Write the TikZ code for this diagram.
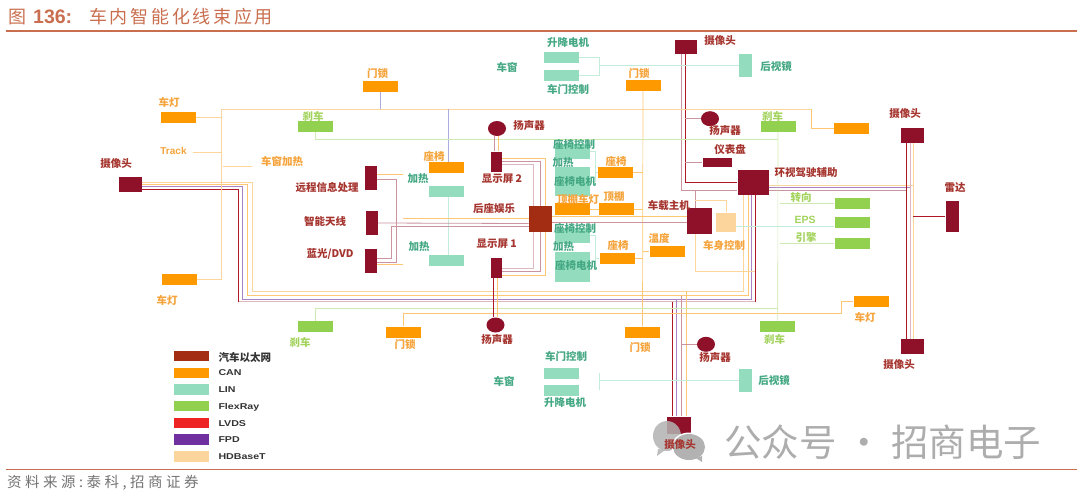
\documentclass[tikz,border=0pt]{standalone}
\usepackage{fontspec}
\setmainfont{Liberation Sans}
\newfontfamily\cjk{Noto Sans CJK SC}
\newfontfamily\cjkwide[LetterSpace=15]{Noto Sans CJK SC}
\newfontfamily\cjksrc[LetterSpace=24]{Noto Sans CJK SC}
\newfontfamily\legendfont[FakeStretch=1.25]{Liberation Sans}
\usetikzlibrary{shapes.geometric,positioning}
\definecolor{ecuc}{HTML}{8E1129}
\definecolor{ethc}{HTML}{A32D12}
\definecolor{canc}{HTML}{FF9900}
\definecolor{linc}{HTML}{93DDBE}
\definecolor{frc}{HTML}{92D050}
\definecolor{lvdsc}{HTML}{EE2424}
\definecolor{fpdc}{HTML}{7030A0}
\definecolor{hdc}{HTML}{FBD59B}
\definecolor{rulec}{HTML}{C96F4F}
\definecolor{ecutxtc}{HTML}{A5342E}
\definecolor{cantxtc}{HTML}{F5A33B}
\definecolor{lintxtc}{HTML}{45A884}
\definecolor{frtxtc}{HTML}{A3D35E}
\tikzset{
    ecu/.style={rectangle, fill=ecuc, minimum width=12pt, minimum height=24pt, inner sep=0pt},
    cam/.style={ecu, minimum width=23pt, minimum height=15pt},
    spk/.style={ellipse, fill=ecuc, minimum width=18pt, minimum height=15pt, inner sep=0pt},
    canbox/.style={rectangle, fill=canc, minimum width=35pt, minimum height=11pt, inner sep=0pt},
    linbox/.style={canbox, fill=linc},
    frbox/.style={canbox, fill=frc},
    keybox/.style={canbox, minimum height=10.5pt},
    keytxt/.style={inner sep=0pt, anchor=west, font=\legendfont\bfseries\fontsize{8.5}{10}\selectfont, text=black!80},
    ecutxt/.style={inner sep=0pt, font=\cjk\bfseries\fontsize{10.5}{12}\selectfont, text=ecutxtc},
    cantxt/.style={ecutxt, text=cantxtc},
    lintxt/.style={ecutxt, text=lintxtc},
    frtxt/.style={ecutxt, text=frtxtc},
    redline/.style={draw=ecuc!65!lvdsc, line width=0.9pt},
    pinkline/.style={draw=ecuc!45!white, line width=0.8pt},
    busline/.style={draw=ecuc!30!white, line width=0.8pt},
    fpdline/.style={draw=fpdc!60!white, line width=0.8pt},
    canline/.style={draw=canc!55!white, line width=0.7pt},
    hdline/.style={draw=hdc, line width=0.7pt},
    frline/.style={draw=frc!45!white, line width=0.6pt},
    linline/.style={draw=linc!55!white, line width=0.6pt},
    blueline/.style={draw=blue!45!gray!45!white, line width=0.6pt}
}
\begin{document}
\begin{tikzpicture}[x=1pt, y=-1pt]
    \useasboundingbox (0,0) rectangle (1080,499);
    % Nodes
    \node[cam] (camL) at (130,184) {};
    \node[cam, minimum width=22pt, minimum height=14pt] (camT) at (685.5,46.5) {};
    \node[cam] (camRt) at (912,135) {};
    \node[cam] (camRb) at (912,346.5) {};
    \node[cam, minimum width=24pt, minimum height=17pt] (camB) at (679,425) {};
    \node[ecu] (tele) at (370.7,178) {};
    \node[ecu] (ante) at (372,223) {};
    \node[ecu] (dvd) at (370.7,261) {};
    \node[ecu, minimum width=11pt, minimum height=20pt] (disp2) at (496.5,161.5) {};
    \node[ecu, minimum width=11pt, minimum height=20pt] (disp1) at (496.5,268) {};
    \node[ecu, minimum width=29pt, minimum height=9pt] (dash) at (717,162) {};
    \node[ecu, minimum width=31pt, minimum height=25pt] (surr) at (753,182.7) {};
    \node[ecu, minimum width=25pt, minimum height=25.5pt] (host) at (699.5,221) {};
    \node[ecu, minimum width=13pt, minimum height=31pt] (radar) at (952,216.3) {};
    \node[ecu, fill=ethc, minimum width=23pt, minimum height=26pt] (rear) at (540.3,219) {};
    \node[ecu, fill=hdc, minimum width=20pt, minimum height=19pt] (body) at (726,222) {};
    \node[spk] (spkT) at (497,128.5) {};
    \node[spk] (spkB) at (495.5,325) {};
    \node[spk] (spkM) at (710,118.7) {};
    \node[spk] (spkD) at (706,344.3) {};

    \node[canbox] (lampTL) at (178,117.5) {};
    \node[canbox] (lampBL) at (179.5,279.5) {};
    \node[canbox] (lampR) at (871,301.3) {};
    \node[canbox] (lockTL) at (380,86) {};
    \node[canbox] (lockBL) at (403.5,332) {};
    \node[canbox] (lockT) at (643,85.5) {};
    \node[canbox] (lockB) at (642.5,332) {};
    \node[canbox] (seatL) at (446.5,167.5) {};
    \node[canbox] (seatU) at (615.3,172.7) {};
    \node[canbox] (seatD) at (617,258.5) {};
    \node[canbox, minimum height=12pt] (roofL) at (572,209) {};
    \node[canbox, minimum height=12pt] (roof) at (616.7,209) {};
    \node[canbox] (temp) at (667,251) {};
    \node[canbox] (canR) at (851.3,128.3) {};

    \node[frbox] (brkTL) at (315,126) {};
    \node[frbox] (brkBL) at (315,326.5) {};
    \node[frbox] (brkTR) at (778,126) {};
    \node[frbox] (brkBR) at (777.7,326.3) {};
    \node[frbox] (steer) at (852,203.7) {};
    \node[frbox] (eps) at (852,222.7) {};
    \node[frbox] (engine) at (852,243) {};

    \node[linbox] (heatU) at (446.5,191.5) {};
    \node[linbox] (heatD) at (446.5,260.5) {};
    \node[linbox] (liftT) at (561.5,57.5) {};
    \node[linbox] (doorT) at (561.5,75.5) {};
    \node[linbox] (doorB) at (561.5,373) {};
    \node[linbox] (liftB) at (561.5,390) {};
    \node[linbox, minimum width=13pt, minimum height=23pt] (mirrT) at (745.5,65.5) {};
    \node[linbox, minimum width=13pt, minimum height=23pt] (mirrB) at (745.3,380.7) {};
    \node[linbox, minimum height=15pt] (ctrlU) at (572,151) {};
    \node[linbox, minimum height=29pt] (motorU) at (572,181.3) {};
    \node[linbox, minimum height=15pt] (ctrlD) at (572,235.5) {};
    \node[linbox, minimum height=30pt] (motorD) at (572,266.7) {};

    % bus bundle
    \draw[busline] (238.3,301.7) -- (755.7,301.7);
    \draw[redline] (camL.east |- 0,189.3) -| (238.3,301.7);
    \draw[redline] (755.7,301.7) -- (surr.south -| 755.7,0);
    \draw[fpdline] (camL.east |- 0,186.7) -| (242.3,299) -| (surr.south -| 751.7,0);
    \draw[canline] (camL.east |- 0,184.5) -| (247.3,295.5) -| (surr.south -| 748,0);
    \draw[hdline] (camL.east |- 0,182.5) -| (252,291) -| (surr.south -| 743.3,0);
    \draw[redline] (camB.north -| 672.7,0) -- (672.7,301.7);
    \draw[fpdline] (camB.north -| 676.7,0) -- (676.7,299);
    \draw[pinkline] (camB.north -| 681.3,0) -- (681.3,295.5);
    \draw[canline] (camB.north -| 686.7,0) -- (686.7,291);
    \draw[pinkline] (spkD.west) -- (681.3,344.3);

    % top camera
    \draw[redline] (camT.south -| 685.3,0) |- (surr.west |- 0,182.7);
    \draw[pinkline] (camT.south -| 681.3,0) |- (surr.west |- 0,190);
    \draw[pinkline] (spkM.west) -- (685.3,118.7);
    \draw[pinkline] (dash.west) -- (685.3,162);
    \draw[pinkline] (host.north -| 695,0) -- (695,190);

    % right side
    \draw[pinkline] (surr.east |- 0,190) -- (906.7,190);
    \draw[fpdline] (surr.east |- 0,187.5) -- (910,187.5);
    \draw[hdline] (surr.east |- 0,185) -- (913,185);
    \draw[redline] (camRt.south -| 906.7,0) -- (camRb.north -| 906.7,0);
    \draw[busline] (camRt.south -| 910,0) -- (camRb.north -| 910,0);
    \draw[hdline] (camRt.south -| 913,0) -- (camRb.north -| 913,0);
    \draw[redline] (radar.west) -- (913,216.3);

    % CAN
    \draw[hdline] (lampBL.east) -| (221.5,109) -- (811,109);
    \draw[canline] (811,109) |- (canR.west);
    \draw[hdline] (lampTL.east) -- (221.5,117.5);
    \draw[hdline] (192.7,152.3) -- (221.5,152.3);
    \draw[hdline] (223,166) -- (252,166);
    \draw[blueline] (lockTL.south) -- (lockTL.south |- 0,109);
    \draw[blueline] (448,109) -- (seatL.north -| 448,0);
    \draw[linline] (heatU.south -| 448,0) -- (heatD.north -| 448,0);
    \draw[canline] (lockT.south) -- (lockB.north);
    \draw[canline] (seatU.east) -- (643,172.7);
    \draw[canline] (roof.east) -- (643,209);
    \draw[canline] (temp.west) -- (643,251);
    \draw[canline] (seatD.east) -- (643,258.5);
    \draw[canline] (roofL.east) -- (roof.west);
    \draw[canline] (lockBL.north) |- (841,313.7) |- (lampR.west);
    \draw[canline] (tele.east |- 0,174.7) -- (402.7,174.7);
    \draw[canline] (dvd.east |- 0,264.3) -- (402.7,264.3);

    % FlexRay
    \draw[frline] (brkTL.south) |- (brkTR.south |- 0,139);
    \draw[frline] (brkTR.south) -- (brkBR.north);
    \draw[frline] (brkBL.north) |- (brkBR.north |- 0,308.7);
    \draw[frline] (780,203.7) -- (steer.west);
    \draw[frline] (780,243) -- (engine.west);
    \draw[linline] (body.east |- 0,226) -- (eps.west |- 0,226);

    % LIN
    \draw[linline] (liftT.east) -| (599.3,75.5) -- (doorT.east);
    \draw[linline] (599.3,65.5) -- (mirrT.west);
    \draw[linline] (599.3,372.7) -- (599.3,390);
    \draw[linline] (mirrB.west) -- (599.3,380.7);
    \draw[linline] (ctrlU.east) -| (595,181.3) -- (motorU.east);
    \draw[linline] (595,172.7) -- (seatU.west);
    \draw[linline] (ctrlD.east) -| (595,266.7) -- (motorD.east);
    \draw[linline] (595,258.5) -- (seatD.west);

    % rear seat
    \draw[canline] (disp2.east |- 0,158.3) -| (rear.north -| 545,0);
    \draw[pinkline] (disp2.east |- 0,161.7) -| (rear.north -| 540,0);
    \draw[busline] (disp2.east |- 0,164.3) -| (rear.north -| 533.3,0);
    \draw[busline] (disp1.east |- 0,268.3) -| (rear.south -| 533.3,0);
    \draw[pinkline] (disp1.east |- 0,271.7) -| (rear.south -| 540,0);
    \draw[canline] (disp1.east |- 0,275) -| (rear.south -| 545,0);
    \draw[pinkline] (spkT.south -| 494.3,0) -- (disp2.north -| 494.3,0);
    \draw[canline] (spkT.south -| 498.7,0) -- (disp2.north -| 498.7,0);
    \draw[redline] (spkB.north -| 493.3,0) -- (disp1.south -| 493.3,0);
    \draw[canline] (spkB.north -| 497.7,0) -- (disp1.south -| 497.7,0);
    \draw[pinkline] (tele.east |- 0,179) -| (396.7,262) -- (dvd.east |- 0,262);
    \draw[pinkline] (dvd.east |- 0,258) -| (391.7,226.7) -- (rear.west |- 0,226.7);
    \draw[pinkline] (ante.east) -- (rear.west |- 0,223.5);
    \draw[canline] (402.7,218) -- (rear.west |- 0,218);
    \draw[canline] (rear.east |- 0,216.7) -- (host.west |- 0,216.7);
    \draw[pinkline] (rear.east |- 0,222.3) -- (host.west |- 0,222.3);

    % body
    \draw[hdline] (695,200) -| (body.north);
    \draw[hdline] (host.south -| 695,0) |- (755,271);

    % labels
    \node[cantxt] (tLampTL) at (169,102) {车灯};
    \node[cantxt] (tLampBL) at (167,300) {车灯};
    \node[cantxt] (tLampR) at (865,317.3) {车灯};
    \node[cantxt, font=\bfseries\fontsize{10}{12}\selectfont] (tTrack) at (173.5,151) {Track};
    \node[cantxt] (tGlass) at (282,161) {车窗加热};
    \node[cantxt] (tLockTL) at (377.5,73) {门锁};
    \node[cantxt] (tLockBL) at (405,344) {门锁};
    \node[cantxt] (tLockT) at (639,73) {门锁};
    \node[cantxt] (tLockB) at (640,347.7) {门锁};
    \node[cantxt] (tSeatL) at (434,156) {座椅};
    \node[cantxt] (tSeatU) at (616,161) {座椅};
    \node[cantxt] (tSeatD) at (618,245) {座椅};
    \node[cantxt] (tRoofL) at (578,199) {顶棚车灯};
    \node[cantxt] (tRoof) at (614,196.7) {顶棚};
    \node[cantxt] (tTemp) at (659,238.3) {温度};
    \node[cantxt] (tBody) at (724,245) {车身控制};

    \node[frtxt] (tBrkTL) at (313,116.7) {刹车};
    \node[frtxt] (tBrkBL) at (300,342.7) {刹车};
    \node[frtxt] (tBrkTR) at (772.5,116) {刹车};
    \node[frtxt] (tBrkBR) at (774.5,339.3) {刹车};
    \node[frtxt] (tSteer) at (801,197.3) {转向};
    \node[frtxt, font=\bfseries\fontsize{10.5}{12}\selectfont] (tEps) at (805,220) {EPS};
    \node[frtxt] (tEngine) at (806,237.3) {引擎};

    \node[lintxt] (tHeatL) at (418,179) {加热};
    \node[lintxt] (tHeatD) at (419,247) {加热};
    \node[lintxt] (tWinT) at (507,67.7) {车窗};
    \node[lintxt] (tWinB) at (504,381) {车窗};
    \node[lintxt] (tLiftT) at (568,42.7) {升降电机};
    \node[lintxt] (tDoorT) at (568,89) {车门控制};
    \node[lintxt] (tDoorB) at (566,356.7) {车门控制};
    \node[lintxt] (tLiftB) at (565,402.7) {升降电机};
    \node[lintxt] (tMirrT) at (776,66.7) {后视镜};
    \node[lintxt] (tMirrB) at (774,380) {后视镜};
    \node[lintxt] (tCtrlU) at (574,144.7) {座椅控制};
    \node[lintxt] (tHeatU) at (563,163) {加热};
    \node[lintxt] (tMotorU) at (575,181.7) {座椅电机};
    \node[lintxt] (tCtrlD) at (575,228.3) {座椅控制};
    \node[lintxt] (tHeatM) at (563.7,246.7) {加热};
    \node[lintxt] (tMotorD) at (576,265.7) {座椅电机};

    \node[ecutxt] (tCamL) at (116,164) {摄像头};
    \node[ecutxt] (tCamT) at (720,40.7) {摄像头};
    \node[ecutxt] (tCamRt) at (905,114) {摄像头};
    \node[ecutxt] (tCamRb) at (899,365) {摄像头};
    \node[ecutxt] (tTele) at (327,187.7) {远程信息处理};
    \node[ecutxt] (tAnte) at (325,221.7) {智能天线};
    \node[ecutxt] (tDvd) at (330,254) {蓝光/DVD};
    \node[ecutxt] (tDisp2) at (502,179) {显示屏 2};
    \node[ecutxt] (tDisp1) at (496.7,244) {显示屏 1};
    \node[ecutxt] (tRear) at (494,208) {后座娱乐};
    \node[ecutxt] (tSpkT) at (529,125.7) {扬声器};
    \node[ecutxt] (tSpkB) at (497,340) {扬声器};
    \node[ecutxt] (tSpkM) at (725,130.7) {扬声器};
    \node[ecutxt] (tSpkD) at (715,357.3) {扬声器};
    \node[ecutxt] (tDash) at (730,149) {仪表盘};
    \node[ecutxt] (tSurr) at (806,172.3) {环视驾驶辅助};
    \node[ecutxt] (tHost) at (668.8,205.7) {车载主机};
    \node[ecutxt] (tRadar) at (955,188) {雷达};

    % legend
    \node[keybox, fill=ethc] (keyEth) at (191,356) {};
    \node[keybox, below=6pt of keyEth] (keyCan) {};
    \node[keybox, fill=linc] (keyLin) at (191,389.5) {};
    \node[keybox, fill=frc] (keyFr) at (191,406) {};
    \node[keybox, fill=lvdsc] (keyLvds) at (191,423) {};
    \node[keybox, fill=fpdc] (keyFpd) at (191,439.5) {};
    \node[keybox, fill=hdc] (keyHd) at (191,456.5) {};
    \node[keytxt, font=\cjk\bfseries\fontsize{10.5}{12}\selectfont] (tEth) at (218.3,357) {汽车以太网};
    \node[keytxt] (tCan) at (218.3,373) {CAN};
    \node[keytxt] (tLin) at (218.3,390) {LIN};
    \node[keytxt] (tFr) at (218.3,407) {FlexRay};
    \node[keytxt] (tLvds) at (218.3,423.7) {LVDS};
    \node[keytxt] (tFpd) at (218.3,440) {FPD};
    \node[keytxt] (tHd) at (218.3,457) {HDBaseT};

    % header and footer
    \draw[rulec, line width=1.5pt] (6,31) -- (1077,31);
    \draw[rulec, line width=1.2pt] (6,469.5) -- (1077,469.5);
    \node[anchor=west, inner sep=0pt, text=rulec, font=\cjk\fontsize{18}{20}\selectfont] (tFig) at (8,17) {图};
    \node[anchor=west, inner sep=0pt, text=rulec, font=\bfseries\fontsize{19.5}{21}\selectfont] (tNum) at (33,17) {136:};
    \node[anchor=west, inner sep=0pt, text=rulec, font=\cjkwide\fontsize{18}{20}\selectfont] (tTitle) at (89,17) {车内智能化线束应用};
    \node[anchor=west, inner sep=0pt, text=black!55, font=\cjksrc\fontsize{14.5}{16}\selectfont] (tSrc) at (7,482.5) {资料来源:泰科,招商证券};

    % watermark
    \fill[black!30, opacity=.85] (667,436) ellipse (14 and 15);
    \fill[black!30, opacity=.85] (658,449) -- (657,456) -- (665,450) -- cycle;
    \fill[white] (689,447) ellipse (17.5 and 14.5);
    \fill[black!30] (689,447) ellipse (16 and 13);
    \fill[black!30] (696,458) -- (702,462) -- (702,456) -- cycle;
    \node[ecutxt] (tCamB) at (680,445) {摄像头};
    \node[anchor=west, inner sep=0pt, text=black!32, font=\cjk\fontsize{37.5}{40}\selectfont] (tMark) at (724,442) {公众号 · 招商电子};
\end{tikzpicture}
\end{document}
